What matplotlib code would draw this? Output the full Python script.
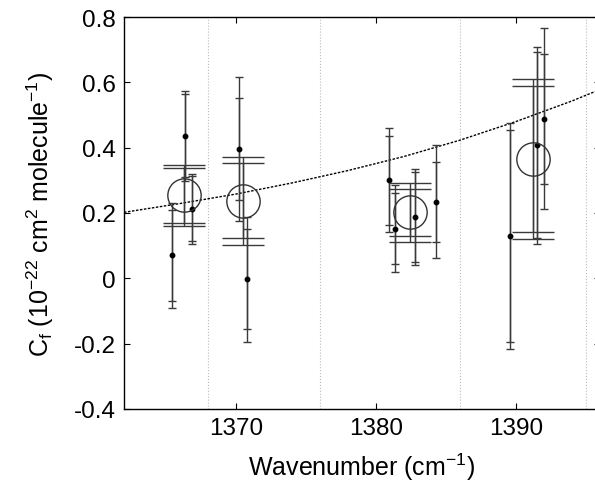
import matplotlib.pyplot as plt
from matplotlib.ticker import FormatStrFormatter

plt.rcParams['font.family'] = ['Liberation Sans', 'DejaVu Sans']
plt.rcParams['mathtext.default'] = 'regular'
plt.rcParams['axes.unicode_minus'] = False

# individual measurements (two error levels each)
pts_x = [1365.43, 1366.38, 1366.86, 1370.24, 1370.76, 1380.9, 1381.38, 1382.8, 1384.3, 1389.6, 1391.5, 1391.97]
pts_y = [0.070, 0.436, 0.213, 0.395, -0.003, 0.300, 0.152, 0.188, 0.234, 0.130, 0.407, 0.489]
err_in = [0.139, 0.127, 0.100, 0.156, 0.153, 0.136, 0.109, 0.138, 0.123, 0.325, 0.285, 0.199]
err_out = [0.160, 0.137, 0.107, 0.221, 0.192, 0.159, 0.133, 0.148, 0.173, 0.345, 0.301, 0.278]

# band means
mean_x = [1366.3, 1370.47, 1382.43, 1391.2]
mean_y = [0.254, 0.237, 0.202, 0.365]
mean_err_in = [0.084, 0.115, 0.072, 0.224]
mean_err_out = [0.094, 0.134, 0.091, 0.246]

# band limits (dotted verticals)
bandes = [1368, 1376, 1386, 1395]

# reference curve
courbe_x = [1362, 1366, 1370, 1374, 1378, 1382, 1386, 1390, 1394, 1396]
courbe_y = [0.202, 0.229, 0.258, 0.292, 0.330, 0.373, 0.423, 0.480, 0.543, 0.578]

fig = plt.figure(figsize=(5.95, 4.85), dpi=100)
ax = fig.add_axes([124 / 595, 75 / 485, 476 / 595, 392 / 485])

for b in bandes:
    ax.axvline(b, color='#bbbbbb', linestyle=':', linewidth=0.8, zorder=0)

ax.plot(courbe_x, courbe_y, color='black', linestyle=(0, (1.8, 1.1)), linewidth=1)

lc = '#3a3a3a'
ax.errorbar(pts_x, pts_y, yerr=err_out, fmt='none', ecolor=lc, elinewidth=1, capsize=3, capthick=1)
ax.errorbar(pts_x, pts_y, yerr=err_in, fmt='none', ecolor=lc, elinewidth=1, capsize=3, capthick=1)
ax.plot(pts_x, pts_y, 'o', color='black', markersize=3.2)

ax.errorbar(mean_x, mean_y, yerr=mean_err_out, fmt='none', ecolor=lc, elinewidth=1, capsize=15, capthick=1)
ax.errorbar(mean_x, mean_y, yerr=mean_err_in, fmt='none', ecolor=lc, elinewidth=1, capsize=15, capthick=1)
ax.plot(mean_x, mean_y, 'o', markerfacecolor='none', markeredgecolor='#333333', markeredgewidth=1, markersize=24)

ax.set_xlim(1362, 1396)
ax.set_ylim(-0.4, 0.8)
ax.set_xticks([1370, 1380, 1390])
ax.set_yticks([-0.4, -0.2, 0, 0.2, 0.4, 0.6, 0.8])
ax.yaxis.set_major_formatter(FormatStrFormatter('%g'))
ax.tick_params(direction='in', top=True, right=True, length=4, labelsize=17.5, pad=6)
for s in ax.spines.values():
    s.set_linewidth(1)

ax.set_xlabel('Wavenumber (cm$^{-1}$)', fontsize=18, labelpad=8)
ax.set_ylabel('C$_f$ (10$^{-22}$ cm$^2$ molecule$^{-1}$)', fontsize=18, labelpad=13)

fig.savefig('out.png', dpi=100)
